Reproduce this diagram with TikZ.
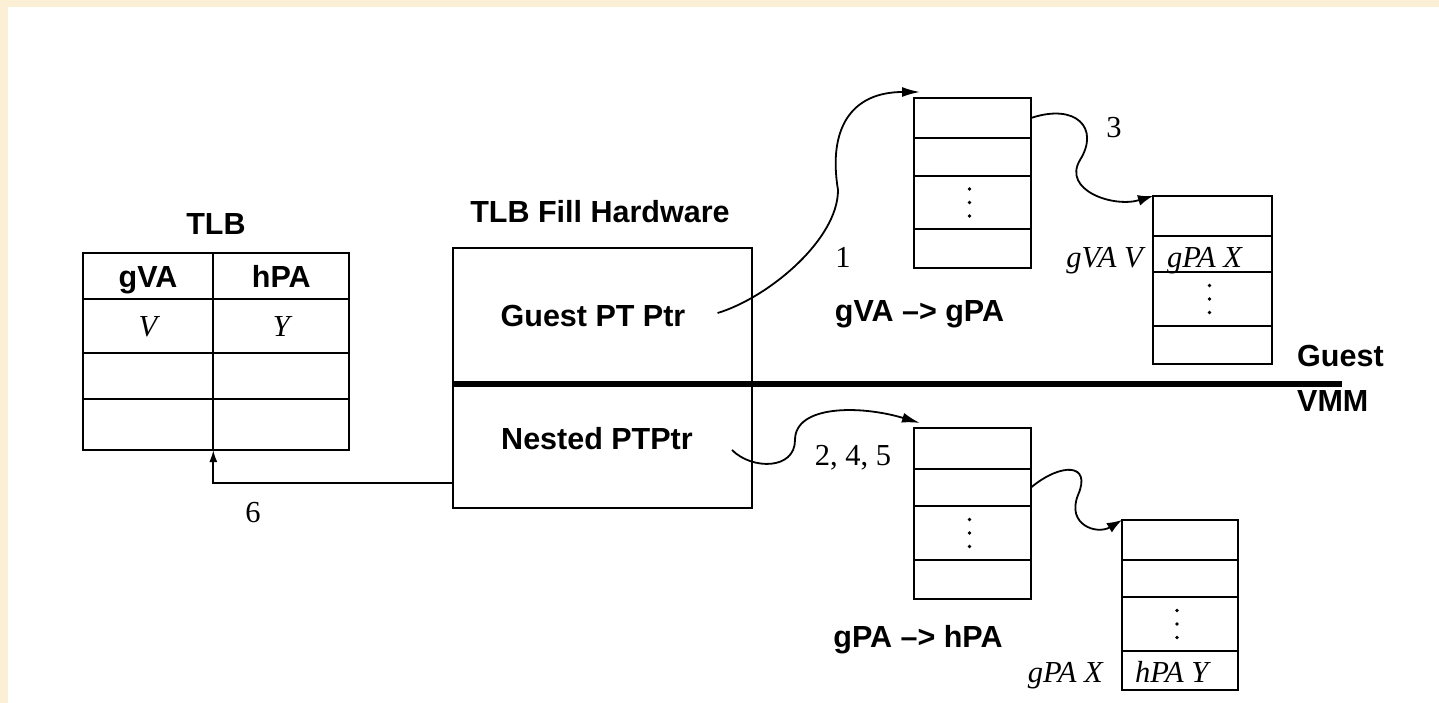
\documentclass[tikz,border=0pt]{standalone}
\usepackage{fontspec}
\setmainfont{Liberation Serif}
\setsansfont{Liberation Sans}
\usetikzlibrary{arrows.meta,positioning}

\definecolor{slidebg}{RGB}{251,239,213}
\newcommand{\labelsize}{\fontsize{30.5}{36}\selectfont}

\tikzset{
    cell/.style={draw, rectangle, inner sep=0pt, outer sep=0pt, line width=1.8pt},
    slot/.style={cell, minimum width=117pt},
    bold/.style={font=\labelsize\sffamily\bfseries, inner sep=0pt, text height=22pt, text depth=0pt},
    ital/.style={font=\labelsize\itshape, inner sep=0pt, text height=20.2pt, text depth=0pt},
    num/.style={font=\labelsize, inner sep=0pt, text height=20.6pt, text depth=0pt},
    link/.style={line width=1.8pt},
    bigtip/.style={-{Latex[length=18pt,width=10pt]}},
    smalltip/.style={-{Latex[length=15pt,width=11pt]}},
}

\begin{document}
\begin{tikzpicture}[x=1pt, y=-1pt]
    \useasboundingbox (0,0) rectangle (1439,703);
    % slide background
    \fill[slidebg] (0,0) rectangle (1439,703);
    \fill[white] (8,7) rectangle (1439,703);

    % TLB
    \node[bold] (tlbtitle) at (216,224) {TLB};
    \node[cell, bold, minimum width=130.6pt, minimum height=46pt] (tlbA1) at (148,276.3) {gVA};
    \node[cell, bold, minimum width=136pt, minimum height=46pt, right=0pt of tlbA1] (tlbB1) {hPA};
    \node[cell, ital, minimum width=130.6pt, minimum height=53.4pt, below=0pt of tlbA1] (tlbA2) {V};
    \node[cell, ital, minimum width=136pt, minimum height=53.4pt, right=0pt of tlbA2] (tlbB2) {Y};
    \node[cell, minimum width=130.6pt, minimum height=46.3pt, below=0pt of tlbA2] (tlbA3) {};
    \node[cell, minimum width=136pt, minimum height=46.3pt, right=0pt of tlbA3] (tlbB3) {};
    \node[cell, minimum width=130.6pt, minimum height=51pt, below=0pt of tlbA3] (tlbA4) {};
    \node[cell, minimum width=136pt, minimum height=51pt, right=0pt of tlbA4] (tlbB4) {};

    % TLB fill hardware
    \node[bold] (hwtitle) at (600,212) {TLB Fill Hardware};
    \node[cell, minimum width=299pt, minimum height=260pt] (hw) at (602.2,378.3) {};
    \node[bold] (gptr) at (593,315) {Guest PT Ptr};
    \node[bold] (nptr) at (597,438) {Nested PTPtr};

    % guest / VMM border
    \coordinate (vmmend) at (1342,384);
    \draw[line width=5.5pt] (hw.west |- vmmend) -- (vmmend);
    \node[bold, anchor=west] (guest) at (1297,355) {Guest};
    \node[bold, anchor=west] (vmm) at (1297,400) {VMM};

    % guest page table, top level
    \node[slot, minimum height=40pt] (ga1) at (972.5,118) {};
    \node[slot, minimum height=38pt, below=0pt of ga1] (ga2) {};
    \node[slot, minimum height=53pt, below=0pt of ga2] (ga3) {};
    \node[slot, minimum height=39pt, below=0pt of ga3] (ga4) {};
    \node[bold] (gacap) at (919.5,310) {gVA –> gPA};

    % guest page table, leaf
    \node[slot, minimum width=119pt, minimum height=40pt] (gv1) at (1212.5,216) {};
    \node[slot, minimum width=119pt, minimum height=36pt, below=0pt of gv1] (gv2) {};
    \node[slot, minimum width=119pt, minimum height=54pt, below=0pt of gv2] (gv3) {};
    \node[slot, minimum width=119pt, minimum height=38pt, below=0pt of gv3] (gv4) {};
    \node[ital, anchor=west] (gpaX) at ([xshift=14pt,yshift=-3pt]gv2.west) {gPA X};
    \node[ital, left=10pt of gv2, yshift=-3pt] (gvaV) {gVA V};

    % nested page table, top level
    \node[slot, minimum height=41pt] (gp1) at (972.5,448.5) {};
    \node[slot, minimum height=37pt, below=0pt of gp1] (gp2) {};
    \node[slot, minimum height=54pt, below=0pt of gp2] (gp3) {};
    \node[slot, minimum height=39pt, below=0pt of gp3] (gp4) {};
    \node[bold] (gpcap) at (918,636) {gPA –> hPA};

    % nested page table, leaf
    \node[slot, minimum width=116pt, minimum height=40pt] (hp1) at (1180,540) {};
    \node[slot, minimum width=116pt, minimum height=37pt, below=0pt of hp1] (hp2) {};
    \node[slot, minimum width=116pt, minimum height=54pt, below=0pt of hp2] (hp3) {};
    \node[slot, minimum width=116pt, minimum height=39pt, below=0pt of hp3] (hp4) {};
    \node[ital, anchor=west] (hpaY) at ([xshift=13pt,yshift=-2pt]hp4.west) {hPA Y};
    \node[ital, left=19pt of hp4, yshift=-2pt] (gpaX2) {gPA X};

    % vertical dots in the middle rows
    \foreach \row in {ga3, gv3, gp3, hp3}
        \foreach \dy in {-13.5, 0, 13.5}
            \fill ([xshift=-3pt, yshift=\dy pt]\row.center) circle (1.8pt);

    % walk steps
    \coordinate (s1) at ([xshift=32pt,yshift=2pt]gptr.east);
    \coordinate (t1) at ([xshift=6pt,yshift=6pt]ga1.north west);
    \coordinate (w1) at (838,190);
    \draw[link, bigtip] (s1) .. controls +(50,-15) and +(0,50) .. (w1)
        .. controls +(-10,-60) and +(-70,0) .. (t1);
    \node[num] (n1) at (843,257) {1};

    \coordinate (s2) at ([xshift=39pt,yshift=-12pt]nptr.east);
    \coordinate (t2) at ([xshift=6pt,yshift=5pt]gp1.north west);
    \coordinate (w2) at (795,440);
    \draw[link, bigtip] (s2) .. controls +(20,20) and +(0,30) .. (w2)
        .. controls +(0,-35) and +(-60,-18) .. (t2);
    \node[num] (n245) at (853,455) {2, 4, 5};

    \coordinate (w3) at (1080,160);
    \draw[link, smalltip] (ga1.east) .. controls +(45,-15) and +(20,-32) .. (w3)
        .. controls +(-18,30) and +(-40,12) .. (gv1.north west);
    \node[num] (n3) at (1114,127) {3};

    \coordinate (w4) at (1078,495);
    \draw[link, smalltip] (gp2.east) .. controls +(30,-25) and +(14,-32) .. (w4)
        .. controls +(-12,30) and +(-25,15) .. (hp1.north west);

    % fill the TLB
    \coordinate (fill) at (hw.west |- 0,482.7);
    \draw[link, -{Latex[length=12pt,width=8pt]}] (fill) -| (tlbA4.south east);
    \node[num] (n6) at (253,512) {6};
\end{tikzpicture}
\end{document}
